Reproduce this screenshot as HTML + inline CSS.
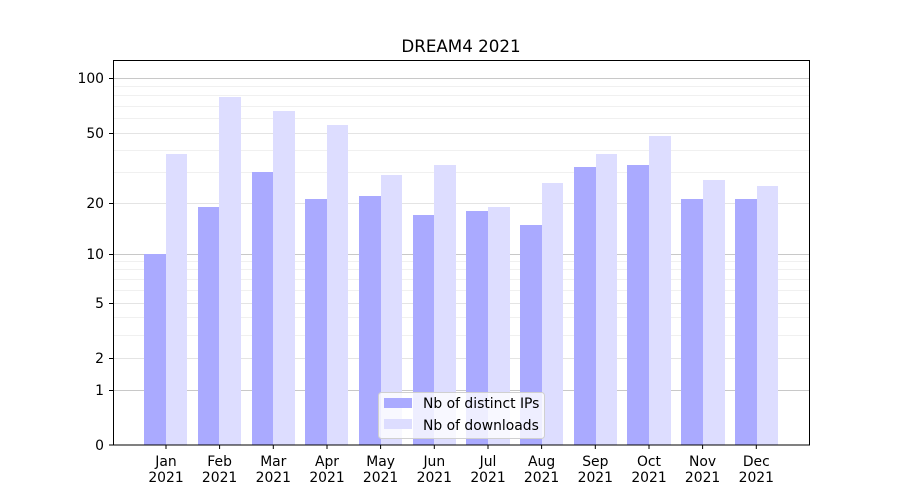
<!DOCTYPE html>
<html><head><meta charset="utf-8"><style>body{margin:0;background:#fff}svg{display:block;font-family:"DejaVu Sans","Liberation Sans",sans-serif}</style></head><body>
<svg width="900" height="500" viewBox="0 0 900 500">
<g stroke="#f0f0f0" stroke-width="1">
<line x1="113" x2="810" y1="335.5" y2="335.5"/><line x1="113" x2="810" y1="317.5" y2="317.5"/><line x1="113" x2="810" y1="290.5" y2="290.5"/><line x1="113" x2="810" y1="279.5" y2="279.5"/><line x1="113" x2="810" y1="269.5" y2="269.5"/><line x1="113" x2="810" y1="261.5" y2="261.5"/>
<line x1="113" x2="810" y1="172.5" y2="172.5"/><line x1="113" x2="810" y1="150.5" y2="150.5"/><line x1="113" x2="810" y1="118.5" y2="118.5"/><line x1="113" x2="810" y1="106.5" y2="106.5"/><line x1="113" x2="810" y1="95.5" y2="95.5"/><line x1="113" x2="810" y1="86.5" y2="86.5"/>
</g>
<g stroke="#e4e4e4"><line x1="113" x2="810" y1="358.5" y2="358.5"/><line x1="113" x2="810" y1="303.5" y2="303.5"/><line x1="113" x2="810" y1="203.5" y2="203.5"/><line x1="113" x2="810" y1="133.5" y2="133.5"/></g>
<g stroke="#c8c8c8"><line x1="113" x2="810" y1="390.5" y2="390.5"/><line x1="113" x2="810" y1="254.5" y2="254.5"/><line x1="113" x2="810" y1="78.5" y2="78.5"/></g>
<g fill="#aaaaff">
<rect x="144" y="254" width="22" height="191"/><rect x="198" y="207" width="21" height="238"/><rect x="252" y="172" width="21" height="273"/><rect x="305" y="199" width="22" height="246"/><rect x="359" y="196" width="22" height="249"/><rect x="413" y="215" width="21" height="230"/><rect x="466" y="211" width="22" height="234"/><rect x="520" y="225" width="22" height="220"/><rect x="574" y="167" width="22" height="278"/><rect x="627" y="165" width="22" height="280"/><rect x="681" y="199" width="22" height="246"/><rect x="735" y="199" width="22" height="246"/>
</g>
<g fill="#ddddff">
<rect x="166" y="154" width="21" height="291"/><rect x="219" y="97" width="22" height="348"/><rect x="273" y="111" width="22" height="334"/><rect x="327" y="125" width="21" height="320"/><rect x="381" y="175" width="21" height="270"/><rect x="434" y="165" width="22" height="280"/><rect x="488" y="207" width="22" height="238"/><rect x="542" y="183" width="21" height="262"/><rect x="596" y="154" width="21" height="291"/><rect x="649" y="136" width="22" height="309"/><rect x="703" y="180" width="22" height="265"/><rect x="757" y="186" width="21" height="259"/>
</g>
<rect x="113.5" y="60.5" width="696" height="384.5" fill="none" stroke="#000"/>
<g stroke="#000"><line x1="109" x2="113" y1="445" y2="445"/><line x1="109" x2="113" y1="390.5" y2="390.5"/><line x1="109" x2="113" y1="358.5" y2="358.5"/><line x1="109" x2="113" y1="303.5" y2="303.5"/><line x1="109" x2="113" y1="254.5" y2="254.5"/><line x1="109" x2="113" y1="203.5" y2="203.5"/><line x1="109" x2="113" y1="133.5" y2="133.5"/><line x1="109" x2="113" y1="78.5" y2="78.5"/></g>
<g font-size="13.9" text-anchor="end" fill="#000"><text x="104" y="450">0</text><text x="104" y="395">1</text><text x="104" y="363">2</text><text x="104" y="308">5</text><text x="104" y="259">10</text><text x="104" y="208">20</text><text x="104" y="138">50</text><text x="104" y="83">100</text></g>
<g font-size="13.9" text-anchor="middle" fill="#000">
<g stroke="#000"><line x1="166" x2="166" y1="445" y2="449"/><line x1="219.6" x2="219.6" y1="445" y2="449"/><line x1="273.3" x2="273.3" y1="445" y2="449"/><line x1="327" x2="327" y1="445" y2="449"/><line x1="380.6" x2="380.6" y1="445" y2="449"/><line x1="434.3" x2="434.3" y1="445" y2="449"/><line x1="488" x2="488" y1="445" y2="449"/><line x1="541.6" x2="541.6" y1="445" y2="449"/><line x1="595.3" x2="595.3" y1="445" y2="449"/><line x1="649" x2="649" y1="445" y2="449"/><line x1="702.6" x2="702.6" y1="445" y2="449"/><line x1="756.3" x2="756.3" y1="445" y2="449"/></g>
<text x="166" y="466">Jan</text><text x="219.6" y="466">Feb</text><text x="273.3" y="466">Mar</text><text x="327" y="466">Apr</text><text x="380.6" y="466">May</text><text x="434.3" y="466">Jun</text><text x="488" y="466">Jul</text><text x="541.6" y="466">Aug</text><text x="595.3" y="466">Sep</text><text x="649" y="466">Oct</text><text x="702.6" y="466">Nov</text><text x="756.3" y="466">Dec</text>
<text x="166" y="482">2021</text><text x="219.6" y="482">2021</text><text x="273.3" y="482">2021</text><text x="327" y="482">2021</text><text x="380.6" y="482">2021</text><text x="434.3" y="482">2021</text><text x="488" y="482">2021</text><text x="541.6" y="482">2021</text><text x="595.3" y="482">2021</text><text x="649" y="482">2021</text><text x="702.6" y="482">2021</text><text x="756.3" y="482">2021</text>
<text x="461" y="52" font-size="16.7">DREAM4 2021</text>
</g>
<rect x="378.5" y="392.5" width="166" height="46" rx="3" fill="#fff" fill-opacity="0.8" stroke="#d0d0d0"/>
<rect x="384" y="398" width="28" height="10" fill="#aaaaff"/><rect x="384" y="419" width="28" height="10" fill="#ddddff"/>
<g font-size="13.9" fill="#000"><text x="423" y="408">Nb of distinct IPs</text><text x="423" y="430">Nb of downloads</text></g>
</svg>
</body></html>
